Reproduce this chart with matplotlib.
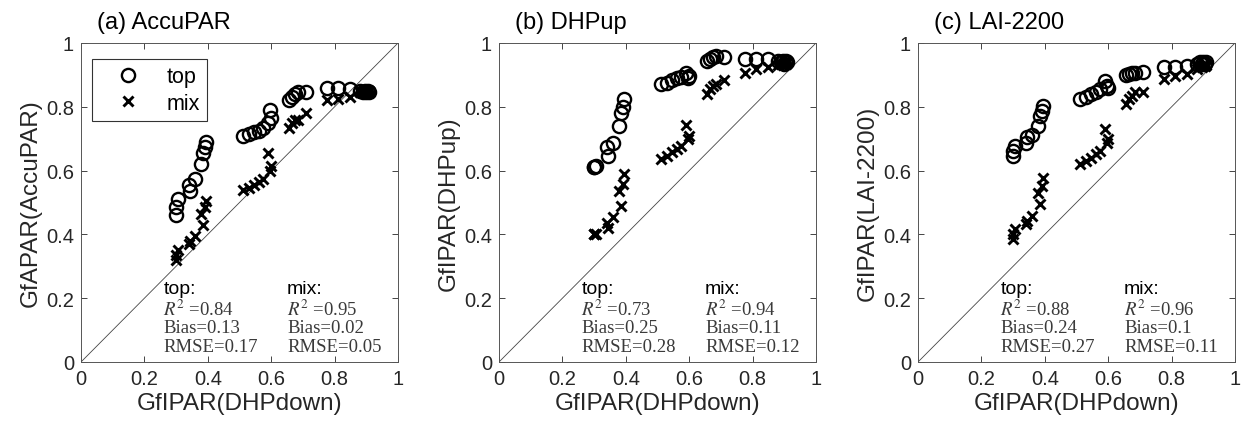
import matplotlib
matplotlib.use("Agg")
import matplotlib.pyplot as plt

# GfIPAR(DHPdown), shared by the three panels
x_down = [0.30, 0.30, 0.305, 0.34, 0.345, 0.36, 0.38, 0.385, 0.39, 0.395,
          0.51, 0.53, 0.545, 0.56, 0.575, 0.59, 0.595, 0.60,
          0.655, 0.665, 0.675, 0.685, 0.71,
          0.775, 0.81, 0.85,
          0.88, 0.89, 0.895, 0.90, 0.905, 0.91]

# (a) AccuPAR
a_top = [0.46, 0.485, 0.51, 0.555, 0.535, 0.575, 0.62, 0.655, 0.675, 0.69,
         0.71, 0.715, 0.72, 0.725, 0.735, 0.75, 0.79, 0.765,
         0.82, 0.83, 0.84, 0.845, 0.845,
         0.86, 0.86, 0.855,
         0.85, 0.845, 0.85, 0.845, 0.85, 0.845]
a_mix = [0.32, 0.335, 0.35, 0.37, 0.38, 0.395, 0.465, 0.43, 0.485, 0.505,
         0.54, 0.545, 0.555, 0.565, 0.575, 0.655, 0.60, 0.615,
         0.735, 0.75, 0.76, 0.76, 0.78,
         0.82, 0.825, 0.83,
         0.845, 0.85, 0.845, 0.85, 0.845, 0.85]

# (b) DHPup
b_top = [0.61, 0.612, 0.615, 0.673, 0.646, 0.686, 0.74, 0.78, 0.80, 0.825,
         0.87, 0.875, 0.885, 0.89, 0.893, 0.905, 0.89, 0.895,
         0.945, 0.95, 0.955, 0.96, 0.955,
         0.95, 0.95, 0.95,
         0.945, 0.94, 0.945, 0.935, 0.945, 0.94]
b_mix = [0.40, 0.40, 0.40, 0.437, 0.42, 0.453, 0.537, 0.49, 0.558, 0.589,
         0.636, 0.646, 0.657, 0.667, 0.678, 0.743, 0.70, 0.709,
         0.84, 0.855, 0.865, 0.871, 0.885,
         0.906, 0.918, 0.924,
         0.93, 0.934, 0.93, 0.935, 0.935, 0.94]

# (c) LAI-2200
c_top = [0.646, 0.662, 0.678, 0.688, 0.704, 0.711, 0.741, 0.772, 0.788, 0.803,
         0.826, 0.832, 0.84, 0.845, 0.856, 0.882, 0.864, 0.86,
         0.90, 0.903, 0.906, 0.906, 0.91,
         0.924, 0.924, 0.929,
         0.935, 0.94, 0.935, 0.94, 0.935, 0.94]
c_mix = [0.385, 0.40, 0.416, 0.432, 0.442, 0.458, 0.531, 0.495, 0.552, 0.578,
         0.62, 0.63, 0.641, 0.652, 0.662, 0.73, 0.688, 0.699,
         0.809, 0.824, 0.835, 0.845, 0.847,
         0.887, 0.897, 0.903,
         0.92, 0.929, 0.925, 0.93, 0.928, 0.93]

titles = ["(a) AccuPAR", "(b) DHPup", "(c) LAI-2200"]
ylabels = ["GfAPAR(AccuPAR)", "GfIPAR(DHPup)", "GfIPAR(LAI-2200)"]
stats_top = [("0.84", "0.13", "0.17"), ("0.73", "0.25", "0.28"), ("0.88", "0.24", "0.27")]
stats_mix = [("0.95", "0.02", "0.05"), ("0.94", "0.11", "0.12"), ("0.96", "0.1", "0.11")]
ticks = [0, 0.2, 0.4, 0.6, 0.8, 1]
tick_labels = ["0", "0.2", "0.4", "0.6", "0.8", "1"]

plt.rcParams["font.family"] = ["Liberation Sans", "DejaVu Sans"]
plt.rcParams["mathtext.fontset"] = "stix"

fig = plt.figure(figsize=(12.44, 4.31), dpi=100)
lefts = [81 / 1244, 499 / 1244, 918 / 1244]
w = 317 / 1244
b0 = 68 / 431
h = 319 / 431

tops = [a_top, b_top, c_top]
mixes = [a_mix, b_mix, c_mix]
axc = "#262626"
txtc = "#3a3a3a"

for i in range(3):
    ax = fig.add_axes([lefts[i], b0, w, h])
    ax.plot([0, 1], [0, 1], color="#444444", lw=0.6, zorder=1)
    ax.plot(x_down, tops[i], linestyle="none", marker="o", ms=9.5,
            mfc="none", mec="black", mew=1.7, label="top", zorder=3)
    ax.plot(x_down, mixes[i], linestyle="none", marker="x", ms=7,
            mec="black", mew=2.1, label="mix", zorder=2)
    ax.set_xlim(0, 1)
    ax.set_ylim(0, 1)
    ax.set_xticks(ticks)
    ax.set_xticklabels(tick_labels)
    ax.set_yticks(ticks)
    ax.set_yticklabels(tick_labels)
    ax.tick_params(direction="in", top=True, right=True, length=4,
                   width=0.6, labelsize=14.5, colors=axc, pad=5)
    for s in ax.spines.values():
        s.set_color("#555555")
        s.set_linewidth(0.7)
    ax.set_xlabel("GfIPAR(DHPdown)", fontsize=17.5, color=axc, labelpad=3)
    ax.set_ylabel(ylabels[i], fontsize=17.5, color=axc, labelpad=3)
    ax.text(0.05, 1.03, titles[i], transform=ax.transAxes, fontsize=17,
            color="black", ha="left", va="bottom")

    # statistiques
    for xs, head, st in [(0.26, "top:", stats_top[i]), (0.65, "mix:", stats_mix[i])]:
        ax.text(xs, 0.229, head, transform=ax.transAxes, fontsize=14,
                color="black", ha="left", va="center")
        ax.text(xs, 0.166, r"$R^2$ =" + st[0], transform=ax.transAxes,
                fontsize=13.5, color=txtc, ha="left", va="center",
                family="Liberation Serif")
        ax.text(xs, 0.108, "Bias=" + st[1], transform=ax.transAxes,
                fontsize=13.5, color=txtc, ha="left", va="center",
                family="Liberation Serif")
        ax.text(xs, 0.05, "RMSE=" + st[2], transform=ax.transAxes,
                fontsize=13.5, color=txtc, ha="left", va="center",
                family="Liberation Serif")

    if i == 0:
        leg = ax.legend(loc="upper left", bbox_to_anchor=(0.035, 0.95),
                        borderaxespad=0, fontsize=15.5, frameon=True,
                        fancybox=False, edgecolor="black", handlelength=2.6,
                        borderpad=0.35, labelspacing=0.25, handletextpad=0.5)
        leg.get_frame().set_linewidth(0.8)

fig.savefig("out.png", dpi=100)
